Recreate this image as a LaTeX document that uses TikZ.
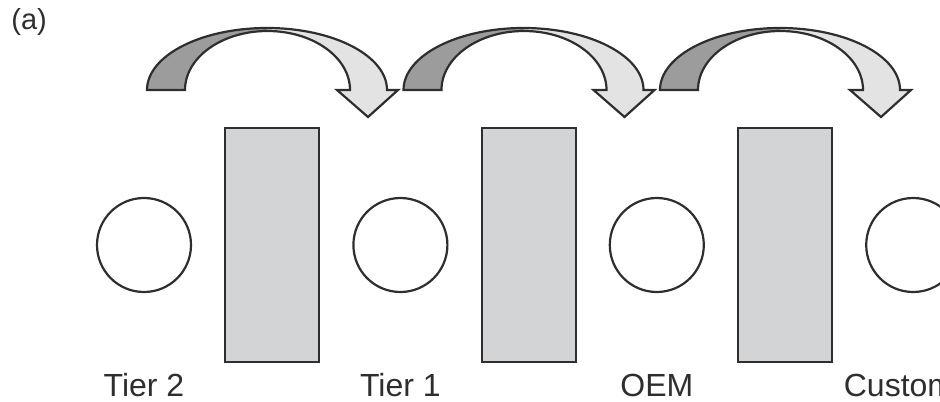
\documentclass[tikz,border=0pt]{standalone}
\usepackage{fontspec}
\setmainfont{Liberation Sans}
\usetikzlibrary{positioning}
\definecolor{outline}{HTML}{2E2E2E}
\definecolor{backshade}{HTML}{9C9C9C}
\definecolor{frontshade}{HTML}{E3E3E3}
\definecolor{panel}{HTML}{D3D4D6}
\tikzset{
	stage/.style={
		circle, draw=outline, line width=1.1pt,
		minimum size=47pt, inner sep=0pt, outer sep=0pt
	},
	buffer/.style={
		rectangle, draw=outline, line width=1.1pt, fill=panel,
		minimum width=47pt, minimum height=117pt, inner sep=0pt, outer sep=0pt
	},
	tier/.style={
		font=\fontsize{16}{19}\selectfont, text=outline, inner sep=0pt
	},
	hop/.style={
		draw=outline, line width=1.1pt, line join=miter
	}
}

% curved hop arrow, left foot at the origin
\newcommand{\hoparrow}{%
	\fill[backshade] (0,0) arc[start angle=180, end angle=90, x radius=120, y radius=62]
		-- (120.5,59) arc[start angle=90, end angle=180, x radius=82.5, y radius=59] -- cycle;
	\fill[frontshade] (120,62) arc[start angle=90, end angle=0, x radius=120, y radius=62]
		-- (251,0) -- (221,-27) -- (190,0) -- (203,0)
		arc[start angle=0, end angle=90, x radius=82.5, y radius=59] -- cycle;
	\draw[hop] (0,0) arc[start angle=180, end angle=0, x radius=120, y radius=62]
		-- (251,0) -- (221,-27) -- (190,0) -- (203,0)
		arc[start angle=0, end angle=180, x radius=82.5, y radius=59] -- cycle;
}

\begin{document}
\begin{tikzpicture}[x=0.5pt, y=0.5pt]
		\clip (0,0) rectangle (940,-401);
		
		\node[tier, font=\fontsize{14.5}{17}\selectfont, anchor=base west] (tag) at (11,-30) {(a)};
		
		% stages and the buffers between them
		\node[stage] (t2) at (144,-245) {};
		\node[buffer, right=17.1pt of t2] (b1) {};
		\node[stage, right=17.1pt of b1] (t1) {};
		\node[buffer, right=17.1pt of t1] (b2) {};
		\node[stage, right=17.1pt of b2] (oem) {};
		\node[buffer, right=17.1pt of oem] (b3) {};
		\node[stage, right=17.1pt of b3] (cu) {};
		
		\node[tier, below=75.5pt of t2.center, anchor=base] (lt2) {Tier 2};
		\node[tier, below=75.5pt of t1.center, anchor=base] (lt1) {Tier 1};
		\node[tier, below=75.5pt of oem.center, anchor=base] (loem) {OEM};
		\node[tier, below=75.5pt of cu.center, anchor=base] (lcu) {Customer};
		
		% hops over the buffers
		\begin{scope}[shift={(147,-90)}]
			\hoparrow
		\end{scope}
		\begin{scope}[shift={(403.5,-90)}]
			\hoparrow
		\end{scope}
		\begin{scope}[shift={(660,-90)}]
			\hoparrow
		\end{scope}
		
\end{tikzpicture}
\end{document}
